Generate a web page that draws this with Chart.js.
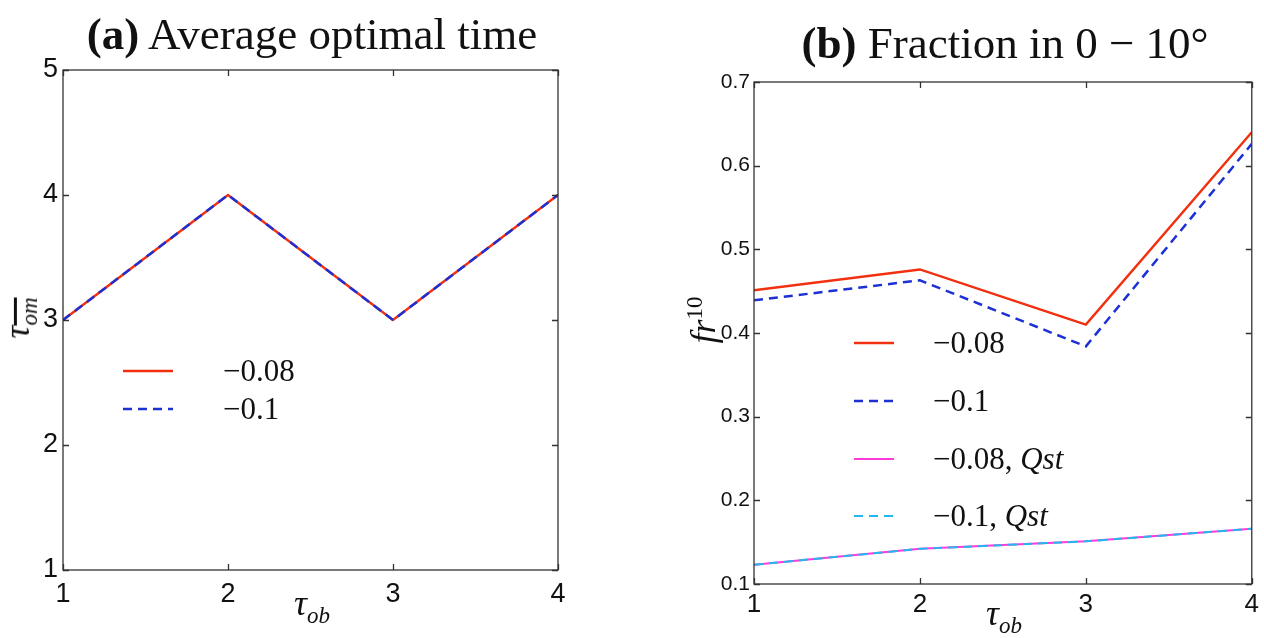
<!DOCTYPE html>
<html lang="en">
<head>
  <meta charset="UTF-8" />
  <title>Average optimal time / Fraction in 0-10</title>
  <style>
    body {
      margin: 0;
      background: white;
      width: 1264px;
      height: 638px;
      position: relative;
      overflow: hidden;
      font-family: 'Liberation Serif', 'DejaVu Serif', serif;
    }
    .box { position: absolute; }
    .title {
      position: absolute;
      font-size: 45px;
      white-space: nowrap;
      transform: translateX(-50%);
      color: #111;
    }
    .axt {
      position: absolute;
      font-size: 36px;
      font-style: italic;
      white-space: nowrap;
      color: #111;
      line-height: 1;
    }
    .axt sub, .axt sup { font-size: 23px; }
    .rot { transform: translate(-50%, -50%) rotate(-90deg); }
    .hor { transform: translate(-50%, -50%); }
    .legend { position: absolute; }
    .legend .row { position: absolute; white-space: nowrap; font-size: 31px; color: #111; }
    .legend svg { position: absolute; left: 0; top: -3px; }
    .legend .lbl { position: absolute; transform: translateY(-50%); }
  </style>
</head>
<body>
  <div class="box" style="left:0;top:0;width:620px;height:638px"><canvas id="left"></canvas></div>
  <div class="box" style="left:640px;top:0;width:624px;height:638px"><canvas id="right"></canvas></div>

  <div class="title" style="left:312px;top:8px"><b>(a)</b> Average optimal time</div>
  <div class="title" style="left:1005px;top:17px"><b>(b)</b> Fraction in 0 &minus; 10&deg;</div>

  <div class="axt rot" style="left:20px;top:318px"><span style="text-decoration:overline">&tau;<sub>om</sub></span></div>
  <div class="axt hor" style="left:312px;top:606px">&tau;<sub>ob</sub></div>
  <div class="axt rot" style="left:702px;top:320px">fr<sup style="font-style:normal">10</sup></div>
  <div class="axt hor" style="left:1004px;top:616px">&tau;<sub>ob</sub></div>

  <div class="legend" id="legLeft"></div>
  <div class="legend" id="legRight"></div>

  <script src="https://cdn.jsdelivr.net/npm/chart.js"></script>
  <script>
    // x positions (tau_ob)
    const tauOb = [1, 2, 3, 4];

    // (a) average optimal time
    const avgTime008 = [3, 4, 3, 4];
    const avgTime01 = [3, 4, 3, 4];

    // (b) fraction in 0-10 degrees
    const frac008 = [0.451, 0.476, 0.410, 0.640];
    const frac01 = [0.439, 0.463, 0.384, 0.626];
    const frac008Qst = [0.123, 0.142, 0.151, 0.166];
    const frac01Qst = [0.123, 0.142, 0.151, 0.166];

    const leftYTicks = [1, 2, 3, 4, 5];
    const rightYTicks = [0.1, 0.2, 0.3, 0.4, 0.5, 0.6, 0.7];

    const RED = '#f2300f';
    const BLUE = '#1c30d4';
    const MAGENTA = '#ff3ad8';
    const CYAN = '#22b8ee';
    const DASH = [9, 6];

    function pts(ys) { return tauOb.map((x, i) => ({ x: x, y: ys[i] })); }

    // box around plot + inward ticks, matlab style
    const boxPlugin = {
      id: 'box',
      afterDatasetsDraw(chart) {
        const { ctx, chartArea: a, scales } = chart;
        ctx.save();
        ctx.strokeStyle = '#333';
        ctx.lineWidth = 1.3;
        ctx.strokeRect(a.left, a.top, a.right - a.left, a.bottom - a.top);
        const len = 6;
        ctx.beginPath();
        scales.x.ticks.forEach(t => {
          const px = Math.round(scales.x.getPixelForValue(t.value)) + 0.5;
          ctx.moveTo(px, a.bottom); ctx.lineTo(px, a.bottom - len);
          ctx.moveTo(px, a.top); ctx.lineTo(px, a.top + len);
        });
        scales.y.ticks.forEach(t => {
          const py = Math.round(scales.y.getPixelForValue(t.value)) + 0.5;
          ctx.moveTo(a.left, py); ctx.lineTo(a.left + len, py);
          ctx.moveTo(a.right, py); ctx.lineTo(a.right - len, py);
        });
        ctx.stroke();
        ctx.restore();
      }
    };

    function makeChart(id, datasets, yMin, yMax, yTicks, opts) {
      return new Chart(document.getElementById(id), {
        type: 'line',
        data: { datasets: datasets },
        options: {
          responsive: true,
          maintainAspectRatio: false,
          animation: false,
          layout: { padding: { left: 0, right: opts.padRight, top: opts.padTop, bottom: 0 } },
          plugins: { legend: { display: false }, tooltip: { enabled: false } },
          elements: { point: { radius: 0 }, line: { tension: 0, borderWidth: 2.5 } },
          scales: {
            x: {
              type: 'linear', min: 1, max: 4,
              grid: { display: false, drawTicks: false },
              border: { display: false },
              afterBuildTicks: s => { s.ticks = tauOb.map(v => ({ value: v })); },
              afterFit: s => { s.height = opts.xHeight; },
              ticks: {
                color: '#111', padding: opts.xPad,
                font: { family: 'Liberation Sans', size: opts.xFont },
                callback: v => String(v)
              }
            },
            y: {
              type: 'linear', min: yMin, max: yMax,
              grid: { display: false, drawTicks: false },
              border: { display: false },
              afterBuildTicks: s => { s.ticks = yTicks.map(v => ({ value: v })); },
              afterFit: s => { s.width = opts.yWidth; },
              ticks: {
                color: '#111', padding: opts.yPad,
                font: { family: 'Liberation Sans', size: opts.yFont },
                callback: v => String(v)
              }
            }
          }
        },
        plugins: [boxPlugin]
      });
    }

    const leftSets = [
      { label: '\u22120.1', data: pts(avgTime01), borderColor: BLUE, borderDash: DASH, order: 1 },
      { label: '\u22120.08', data: pts(avgTime008), borderColor: RED, order: 2 }
    ];
    const rightSets = [
      { label: '\u22120.08', data: pts(frac008), borderColor: RED, order: 4 },
      { label: '\u22120.1', data: pts(frac01), borderColor: BLUE, borderDash: DASH, order: 3 },
      { label: '\u22120.08, <i>Qst</i>', data: pts(frac008Qst), borderColor: MAGENTA, borderWidth: 2, order: 2 },
      { label: '\u22120.1, <i>Qst</i>', data: pts(frac01Qst), borderColor: CYAN, borderDash: DASH, borderWidth: 2, order: 1 }
    ];

    makeChart('left', leftSets, 1, 5, leftYTicks,
      { padRight: 62, padTop: 70, xHeight: 68, yWidth: 63, xPad: 8, yPad: 5, xFont: 27, yFont: 27 });
    makeChart('right', rightSets, 0.1, 0.7, rightYTicks,
      { padRight: 12, padTop: 82, xHeight: 54, yWidth: 114, xPad: 5, yPad: 4, xFont: 26, yFont: 21 });

    // legends built from the datasets
    function buildLegend(elId, sets, x0, rows, sampleW, textX) {
      const el = document.getElementById(elId);
      sets.forEach((ds, i) => {
        const row = document.createElement('div');
        row.className = 'row';
        row.style.left = x0 + 'px';
        row.style.top = rows[i] + 'px';
        const w = ds.borderWidth || 2.5;
        const dash = ds.borderDash ? ' stroke-dasharray="' + ds.borderDash.join(' ') + '"' : '';
        row.innerHTML =
          '<svg width="' + sampleW + '" height="6"><line x1="0" y1="3" x2="' + sampleW + '" y2="3" stroke="' +
          ds.borderColor + '" stroke-width="' + w + '"' + dash + '/></svg>' +
          '<div class="lbl" style="left:' + textX + 'px">' + ds.label + '</div>';
        el.appendChild(row);
      });
    }
    buildLegend('legLeft', [leftSets[1], leftSets[0]], 123, [371, 409], 50, 100);
    buildLegend('legRight', rightSets, 854, [343, 401, 459, 516], 40, 79);
  </script>
</body>
</html>
